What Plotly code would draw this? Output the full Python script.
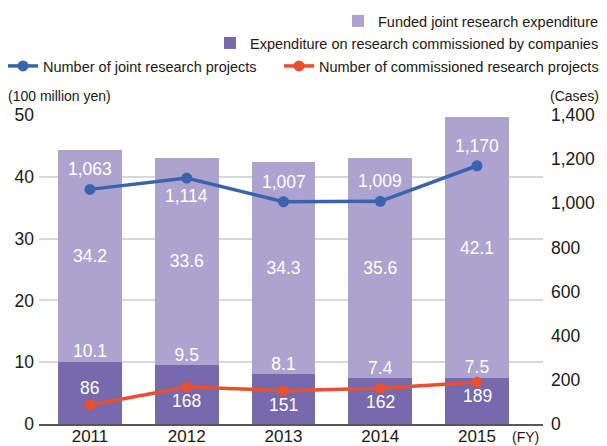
import plotly.graph_objects as go

# data
years = ['2011', '2012', '2013', '2014', '2015']
commissioned_exp = [10.1, 9.5, 8.1, 7.4, 7.5]      # 100 million yen
joint_exp = [34.2, 33.6, 34.3, 35.6, 42.1]          # 100 million yen
joint_projects = [1063, 1114, 1007, 1009, 1170]     # cases
commissioned_projects = [86, 168, 151, 162, 189]    # cases
joint_label_side = [1, -1, 1, 1, 1]                 # 1 = above point, -1 = below
comm_label_side = [1, -1, -1, -1, -1]

LIGHT = '#ADA3CF'
DARK = '#7669AE'
BLUE = '#3A63AE'
ORANGE = '#E8502E'
TXT = '#231815'
FONT = 'Liberation Sans, Arial, sans-serif'
NUM = 17.5

# the page body has an 8px margin, so the figure is drawn 8px in from the window edge.
# window pixel -> paper coords (plot area is window x 39..543, y 115..424)
def px_x(p):
    return (p - 39) / 504

def px_y(p):
    return (424 - p) / 309

W, H = 599, 438

def cont_y(p):
    return 1 - (p - 8) / H

fig = go.Figure()

fig.add_trace(go.Bar(
    x=years, y=commissioned_exp, name='Expenditure on research commissioned by companies',
    marker=dict(color=DARK, line=dict(width=0)), legend='legend2'))
fig.add_trace(go.Bar(
    x=years, y=joint_exp, name='Funded joint research expenditure',
    marker=dict(color=LIGHT, line=dict(width=0)),
    text=[f'{v:.1f}' for v in joint_exp], textposition='inside',
    insidetextanchor='middle', textfont=dict(color='white', size=NUM, family=FONT),
    legend='legend'))

# labels for the dark bars, sitting just above them
fig.add_trace(go.Scatter(
    x=years, y=commissioned_exp, mode='text', text=[f'{v:.1f}' for v in commissioned_exp],
    textposition='top center', textfont=dict(color='white', size=NUM, family=FONT),
    showlegend=False, hoverinfo='skip'))

fig.add_trace(go.Scatter(
    x=years, y=joint_projects, yaxis='y2', name='Number of joint research projects',
    mode='lines+markers', line=dict(color=BLUE, width=3.5),
    marker=dict(size=11, color=BLUE), legend='legend3'))
fig.add_trace(go.Scatter(
    x=years, y=commissioned_projects, yaxis='y2', name='Number of commissioned research projects',
    mode='lines+markers', line=dict(color=ORANGE, width=3.5),
    marker=dict(size=11, color=ORANGE), legend='legend4'))

# point labels (category axis -> annotation x is the category index)
for i, (v, s) in enumerate(zip(joint_projects, joint_label_side)):
    fig.add_annotation(x=i, y=v, yref='y2', text=f'{v:,}', showarrow=False,
                       yshift=20 if s > 0 else -18,
                       font=dict(color='white', size=NUM, family=FONT))
for i, (v, s) in enumerate(zip(commissioned_projects, comm_label_side)):
    fig.add_annotation(x=i, y=v, yref='y2', text=f'{v:,}', showarrow=False,
                       yshift=17 if s > 0 else -14,
                       font=dict(color='white', size=NUM, family=FONT))

fig.add_annotation(xref='paper', yref='paper', x=px_x(525), y=px_y(437), text='(FY)',
                   xanchor='center', yanchor='middle',
                   showarrow=False, font=dict(size=14, color=TXT, family=FONT))
fig.add_annotation(xref='paper', yref='paper', x=px_x(6), y=px_y(96),
                   xanchor='left', yanchor='middle',
                   text='(100 million yen)', showarrow=False,
                   font=dict(size=14, color=TXT, family=FONT))
fig.add_annotation(xref='paper', yref='paper', x=px_x(601), y=px_y(96),
                   xanchor='right', yanchor='middle',
                   text='(Cases)', showarrow=False, font=dict(size=14, color=TXT, family=FONT))

legend_common = dict(xref='paper', yref='container', yanchor='middle',
                     bgcolor='rgba(0,0,0,0)', font=dict(size=14.5, color=TXT, family=FONT))

fig.update_layout(
    width=W, height=H,
    margin=dict(l=31, r=64, t=107, b=22, autoexpand=False),
    paper_bgcolor='white', plot_bgcolor='white',
    barmode='stack', bargap=0.339,
    font=dict(family=FONT, color=TXT),
    xaxis=dict(type='category', range=[-0.527, 4.682], showgrid=False, ticks='', ticklen=0,
               ticklabelstandoff=-4,
               showline=True, linecolor='#595757', linewidth=1.5, tickfont=dict(size=17)),
    yaxis=dict(range=[0, 50], dtick=10, showgrid=True, gridcolor='#D9D9D9', gridwidth=1.5,
               zeroline=False, tickfont=dict(size=NUM), ticks='', ticklen=0,
               ticklabelstandoff=4),
    yaxis2=dict(range=[0, 1400], dtick=200, overlaying='y', side='right', showgrid=False,
                zeroline=False, tickformat=',d', tickfont=dict(size=NUM), ticks='', ticklen=0,
                ticklabelstandoff=7),
    legend=dict(x=px_x(604), y=cont_y(21), xanchor='right', **legend_common),
    legend2=dict(x=px_x(604), y=cont_y(43), xanchor='right', **legend_common),
    legend3=dict(x=px_x(3), y=cont_y(66), xanchor='left', **legend_common),
    legend4=dict(x=px_x(604), y=cont_y(66), xanchor='right', **legend_common),
    showlegend=True,
)

fig.write_html('out.html')
